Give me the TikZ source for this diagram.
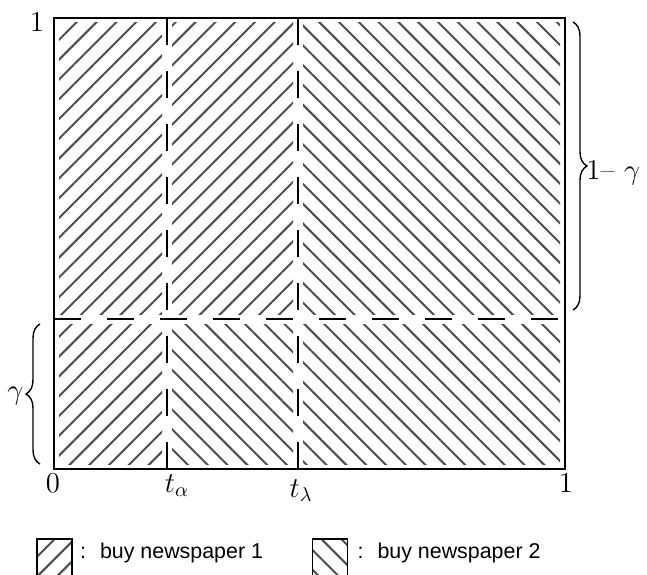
\documentclass[tikz,border=0pt]{standalone}
\usepackage{fontspec}
\newfontfamily\legendfont{Liberation Sans}
\usetikzlibrary{patterns.meta,decorations.pathreplacing,positioning}

\begin{document}
\begin{tikzpicture}[
  x=0.5pt,y=0.5pt,
  frame/.style={draw,line width=0.75pt},
  divider/.style={line width=0.65pt,dash pattern=on 13.5pt off 13pt},
  hatchone/.style={pattern={Lines[angle=45,distance=7pt,line width=1pt]},pattern color=black!70},
  hatchtwo/.style={pattern={Lines[angle=-45,distance=7pt,line width=1pt]},pattern color=black!70},
  sizebrace/.style={decorate,decoration={brace,amplitude=7pt},line width=0.7pt},
  axislabel/.style={font=\fontsize{14.4}{17}\selectfont,inner sep=0pt},
  legendbox/.style={draw,line width=0.7pt,minimum width=17.5pt,minimum height=20pt,inner sep=0pt},
  legendtext/.style={font=\legendfont\fontsize{10.7}{13}\selectfont,inner sep=0pt}
]
  \useasboundingbox (0,0) rectangle (647,574);

  % hatched regions
  \fill[hatchone] (59,260) rectangle (162,551);
  \fill[hatchone] (172,260) rectangle (293,551);
  \fill[hatchtwo] (303,260) rectangle (560,551);
  \fill[hatchone] (59,110) rectangle (162,250);
  \fill[hatchtwo] (172,110) rectangle (293,250);
  \fill[hatchtwo] (303,110) rectangle (560,250);

  % thresholds
  \draw[divider] (167,556) -- (167,105);
  \draw[divider] (298,556) -- (298,105);
  \draw[divider] (54,255) -- (565,255);
  \draw[frame] (54,105) rectangle (565,556);

  % axis labels
  \node[axislabel,anchor=base] (topone) at (37,542) {$1$};
  \node[axislabel,anchor=base] (zero) at (53,82) {$0$};
  \node[axislabel,anchor=base] (talpha) at (177,82) {$t_\alpha$};
  \node[axislabel,anchor=base] (tlambda) at (301,77) {$t_\lambda$};
  \node[axislabel,anchor=base] (rightone) at (566,82) {$1$};

  % braces
  \draw[sizebrace] (40,110) -- (40,250);
  \node[axislabel,anchor=east] (gamma) at (24,178) {$\gamma$};
  \draw[sizebrace] (573,552) -- (573,264);
  \node[axislabel,anchor=base west] (onegamma) at (586,394) {$1$--\ $\gamma$};

  % legend
  \node[legendbox,hatchone] (keyone) at (54.5,15) {};
  \node[legendtext,below right=2pt and 3.5pt of keyone.north east] (textone) {:\hspace{7pt}buy newspaper 1};
  \node[legendbox,hatchtwo] (keytwo) at (330,15) {};
  \node[legendtext,below right=2pt and 4.5pt of keytwo.north east] (texttwo) {:\hspace{7pt}buy newspaper 2};
\end{tikzpicture}
\end{document}
